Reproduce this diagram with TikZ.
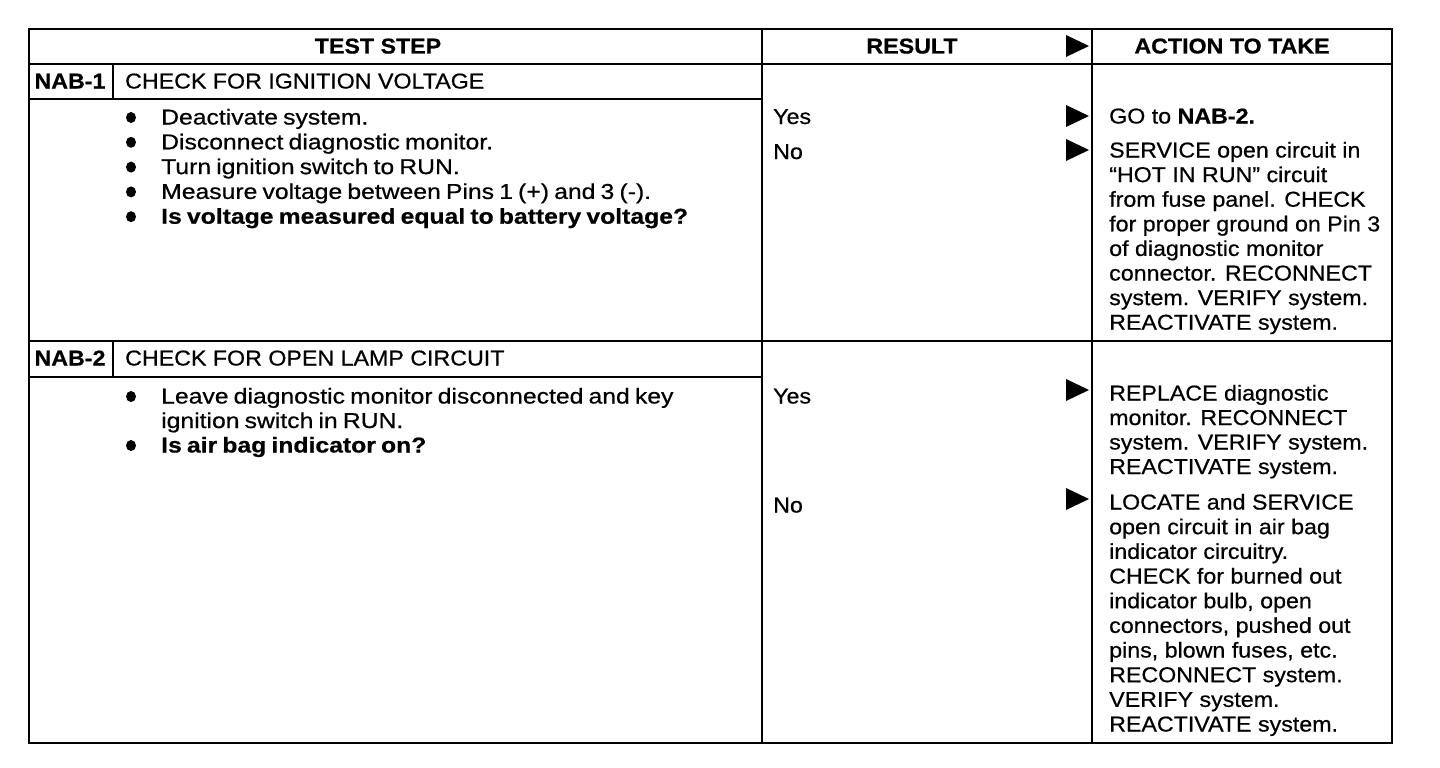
\documentclass[tikz,border=0pt]{standalone}
\usepackage{fontspec}
\setmainfont{Liberation Sans}[FakeStretch=1.08,FakeBold=0.6]
\newfontfamily\leftfont{Liberation Sans}[FakeStretch=1.15,WordSpace=0.75,FakeBold=0.6]
\begin{document}
\begin{tikzpicture}[x=1pt,y=-1pt,
  every node/.style={inner sep=0pt,font=\fontsize{21.5}{24.6}\selectfont},
  txt/.style={anchor=base west},
  ltxt/.style={anchor=base west,font=\fontsize{21.5}{24.6}\leftfont},
  hdr/.style={anchor=base,font=\fontsize{21.5}{24.6}\selectfont\bfseries},
  rule/.style={line width=2.2pt,black},
  tri/.style={fill=black},
  dot/.style={fill=black}]
\useasboundingbox (0,0) rectangle (1440,768);
% frame and rules
\draw[rule] (29,29) rectangle (1392,743);
\draw[rule] (29,64) -- (1392,64);
\draw[rule] (762,29) -- (762,743);
\draw[rule] (1092,29) -- (1092,743);
\draw[rule] (29,99) -- (762,99);
\draw[rule] (113,64) -- (113,99);
\draw[rule] (29,341) -- (1392,341);
\draw[rule] (29,377) -- (762,377);
\draw[rule] (113,341) -- (113,377);
% headers
\node[hdr] (hts) at (378,53.5) {TEST STEP};
\node[hdr] (hres) at (912,53.5) {RESULT};
\node[hdr] (hact) at (1232,53.5) {ACTION TO TAKE};
% triangles
\foreach \yc in {46,116,150,390,499}
  \fill[tri] (1066,\yc-11) -- (1089,\yc) -- (1066,\yc+11) -- cycle;
% NAB-1
\node[hdr] (n1) at (70,88.5) {NAB-1};
\node[txt] (t1) at (125,88.5) {CHECK FOR IGNITION VOLTAGE};
\foreach \t [count=\i from 0] in {{Deactivate system.},{Disconnect diagnostic monitor.},{Turn ignition switch to RUN.},{Measure voltage between Pins 1 (+) and 3 (-).},{\bfseries Is voltage measured equal to battery voltage?}}{
  \fill[dot] (131,124.5+24.8*\i-7) ellipse (5 and 5.5);
  \node[ltxt] (s1-\i) at (161,124.5+24.8*\i) {\t};
}
\node[txt] (y1) at (773,124) {Yes};
\node[txt] (no1) at (773,159) {No};
\node[txt] (a1) at (1109,123.5) {GO to \textbf{NAB-2.}};
\foreach \t [count=\i from 0] in {{SERVICE open circuit in},{“HOT IN RUN” circuit},{from fuse panel. CHECK},{for proper ground on Pin 3},{of diagnostic monitor},{connector. RECONNECT},{system. VERIFY system.},{REACTIVATE system.}}
  \node[txt] (b1-\i) at (1109,157.5+24.6*\i) {\t};
% NAB-2
\node[hdr] (n2) at (70,365.5) {NAB-2};
\node[txt] (t2) at (125,365.5) {CHECK FOR OPEN LAMP CIRCUIT};
\fill[dot] (131,403.5-7) ellipse (5 and 5.5);
\node[ltxt] (s2-0) at (161,403.5) {Leave diagnostic monitor disconnected and key};
\node[ltxt] (s2-1) at (161,428) {ignition switch in RUN.};
\fill[dot] (131,452.5-7) ellipse (5 and 5.5);
\node[ltxt] (s2-2) at (161,452.5) {\bfseries Is air bag indicator on?};
\node[txt] (y2) at (773,403.5) {Yes};
\node[txt] (no2) at (773,512.5) {No};
\foreach \t [count=\i from 0] in {{REPLACE diagnostic},{monitor. RECONNECT},{system. VERIFY system.},{REACTIVATE system.}}
  \node[txt] (c2-\i) at (1109,400.5+24.5*\i) {\t};
\foreach \t [count=\i from 0] in {{LOCATE and SERVICE},{open circuit in air bag},{indicator circuitry.},{CHECK for burned out},{indicator bulb, open},{connectors, pushed out},{pins, blown fuses, etc.},{RECONNECT system.},{VERIFY system.},{REACTIVATE system.}}
  \node[txt] (d2-\i) at (1109,509.5+24.67*\i) {\t};
\end{tikzpicture}
\end{document}
